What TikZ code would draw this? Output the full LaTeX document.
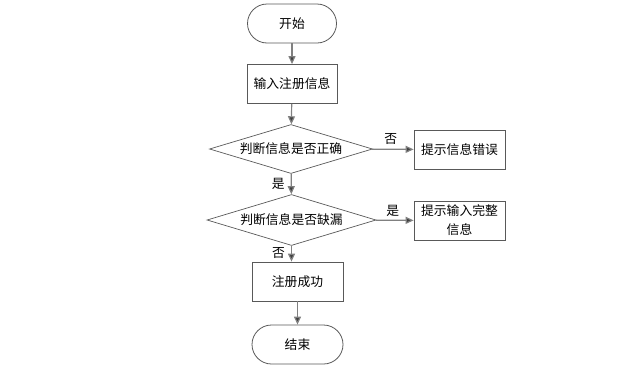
\documentclass[tikz,border=0pt]{standalone}
\usepackage{fontspec}
\setmainfont{Noto Sans CJK SC}
\usetikzlibrary{shapes.geometric,arrows.meta}
\begin{document}
\begin{tikzpicture}[x=1pt,y=-1pt,
  every node/.style={font=\fontsize{12.8}{14}\selectfont},
  term/.style={draw=black!65, line width=0.8pt, rounded corners=19.5pt, minimum width=89pt, minimum height=39pt, inner sep=0pt},
  proc/.style={draw=black!65, line width=0.8pt, minimum width=90pt, minimum height=39pt, inner sep=0pt, align=center},
  decision/.style={draw=black!65, line width=0.7pt, diamond, aspect=3.3, inner sep=0pt},
  conn/.style={draw=black!50, line width=1.2pt, -{Triangle[length=8pt,width=7pt,fill=black!75]}},
  lbl/.style={inner sep=0pt}
]
\useasboundingbox (0,0) rectangle (626,386);
\node[term] (start) at (292,23.5) {开始};
\node[proc] (input) at (292,84) {输入注册信息};
\node[decision, minimum width=163pt, minimum height=49pt] (d1) at (291,149) {};
\node at (d1) {判断信息是否正确};
\node[proc, minimum width=91pt] (err) at (459.5,149.5) {提示信息错误};
\node[decision, minimum width=169pt, minimum height=51pt] (d2) at (291.5,220) {};
\node at (d2) {判断信息是否缺漏};
\node[proc, minimum width=91pt, font=\fontsize{12.8}{19}\selectfont] (inc) at (459.5,220.5) {提示输入完整\\信息};
\node[proc, minimum width=91pt] (ok) at (297.5,281.5) {注册成功};
\node[term, minimum width=91pt] (end) at (297.5,344.5) {结束};
\draw[conn] (start) -- (input);
\draw[conn] (input) -- (d1);
\draw[conn] (d1) -- (err) node[lbl, pos=0.45, above=4pt] {否};
\draw[conn] (d1) -- (d2) node[lbl, midway, left=6pt] {是};
\draw[conn] (d2) -- (inc) node[lbl, pos=0.45, above=3pt] {是};
\draw[conn] (d2.south) -- (d2.south |- ok.north) node[lbl, pos=0.45, left=6pt] {否};
\draw[conn] (ok) -- (end);
\end{tikzpicture}
\end{document}
